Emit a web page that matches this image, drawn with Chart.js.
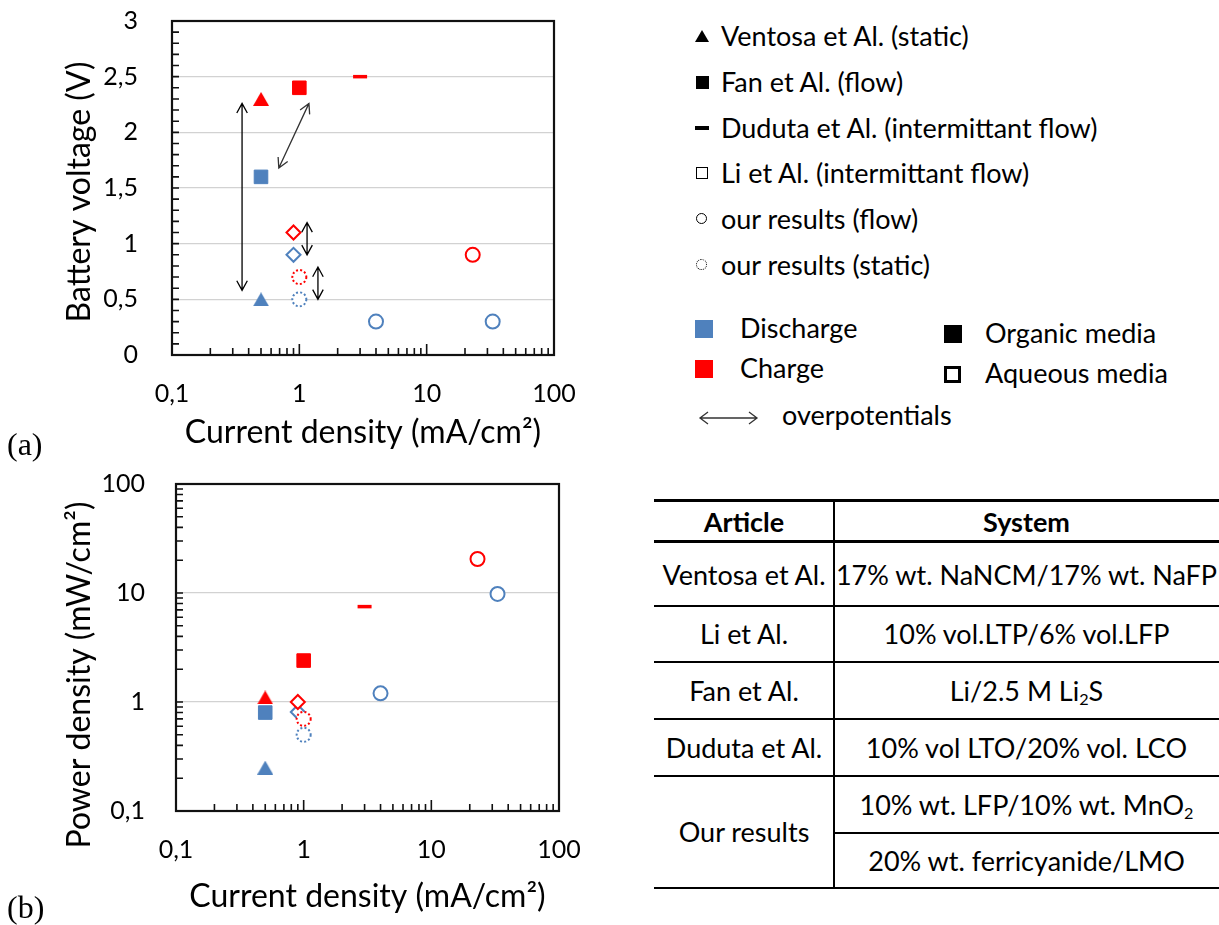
<!DOCTYPE html>
<html><head><meta charset="utf-8">
<script src="https://cdn.jsdelivr.net/npm/chart.js@4.4.0/dist/chart.umd.min.js"></script>
<style>
html,body{margin:0;padding:0;background:#fff;}
body{width:1219px;height:925px;position:relative;overflow:hidden;font-family:Lato,'Open Sans',sans-serif;color:#000;}
canvas{position:absolute;left:0;}
#ca{top:0;}
#cb{top:465px;}
.abs{position:absolute;white-space:nowrap;}
.panel{font-family:'Liberation Serif','DejaVu Serif',serif;font-size:32px;line-height:36px;}
.leg{font-size:27px;line-height:30px;}
.cell{font-size:27px;line-height:30px;text-align:center;}
.line{position:absolute;background:#000;}
sub{font-size:60%;vertical-align:-0.25em;line-height:0;}
</style></head>
<body>
<canvas id="ca" width="620" height="460"></canvas>
<canvas id="cb" width="620" height="460"></canvas>
<div class="abs panel" style="left:7px;top:426px;">(a)</div>
<div class="abs panel" style="left:7px;top:889px;">(b)</div>
<div id="legend"></div>
<div id="table"></div>
<script>
// ---------- DATA ----------
const xTickValues = [0.1, 1, 10, 100];
const xTickLabels = ['0,1', '1', '10', '100'];
const vTickValues = [0, 0.5, 1, 1.5, 2, 2.5, 3];
const vTickLabels = ['0', '0,5', '1', '1,5', '2', '2,5', '3'];
const pTickValues = [0.1, 1, 10, 100];
const pTickLabels = ['0,1', '1', '10', '100'];

// current density (mA/cm2), battery voltage (V), power density (mW/cm2)
const ventosaDisX = [0.5], ventosaDisV = [0.5], ventosaDisP = [0.25];
const ventosaChgX = [0.5], ventosaChgV = [2.3], ventosaChgP = [1.1];
const fanDisX = [0.5], fanDisV = [1.6], fanDisP = [0.8];
const fanChgX = [1.0], fanChgV = [2.4], fanChgP = [2.4];
const dudutaChgX = [3.0], dudutaChgV = [2.5], dudutaChgP = [7.5];
const liDisX = [0.9], liDisV = [0.9], liDisP = [0.81];
const liChgX = [0.9], liChgV = [1.1], liChgP = [1.0];
const flowDisX = [4.0, 33], flowDisV = [0.3, 0.3], flowDisP = [1.2, 9.8];
const flowChgX = [23], flowChgV = [0.9], flowChgP = [20.5];
const staticDisX = [1.0], staticDisV = [0.5], staticDisP = [0.5];
const staticChgX = [1.0], staticChgV = [0.7], staticChgP = [0.7];

// overpotential arrows in panel (a): (x1,V1) <-> (x2,V2)
const arrowX1 = [0.355, 0.69, 1.15, 1.40];
const arrowV1 = [2.26, 1.68, 1.19, 0.79];
const arrowX2 = [0.355, 1.19, 1.15, 1.40];
const arrowV2 = [0.58, 2.26, 0.90, 0.50];

const legendLabels = ['Ventosa et Al. (static)', 'Fan et Al. (flow)', 'Duduta et Al. (intermittant flow)',
  'Li et Al. (intermittant flow)', 'our results (flow)', 'our results (static)'];
const legendMarkers = ['tri', 'sq', 'dash', 'hsq', 'circ', 'dcirc'];
const colorLabels = ['Discharge', 'Charge'];
const mediaLabels = ['Organic media', 'Aqueous media'];
const arrowLabel = 'overpotentials';

const tableHeaders = ['Article', 'System'];
const tableArticles = ['Ventosa et Al.', 'Li et Al.', 'Fan et Al.', 'Duduta et Al.', 'Our results'];
const tableSystems = ['17% wt. NaNCM/17% wt. NaFP', '10% vol.LTP/6% vol.LFP', 'Li/2.5 M Li<sub>2</sub>S',
  '10% vol LTO/20% vol. LCO', '10% wt. LFP/10% wt. MnO<sub>2</sub>', '20% wt. ferricyanide/LMO'];

// ---------- STYLES ----------
const BLUE = '#4F81BD', RED = '#FF0000';
function triCanvas(color) {
  const w = 16, hh = 14;
  const c = document.createElement('canvas'); c.width = w; c.height = hh;
  const g = c.getContext('2d');
  g.fillStyle = color; g.beginPath(); g.moveTo(w / 2, 0); g.lineTo(w, hh); g.lineTo(0, hh); g.closePath(); g.fill();
  return c;
}
const markerStyle = {
  ventosa: {pointStyle: 'tri', radius: 9, filled: true, bw: 1},
  fan: {pointStyle: 'rect', radius: 9.6, filled: true, bw: 1},
  duduta: {pointStyle: 'line', radius: 7, filled: true, bw: 3.5},
  li: {pointStyle: 'rectRot', radius: 7, filled: false, bw: 2},
  flow: {pointStyle: 'circle', radius: 7, filled: false, bw: 2},
  stat: {pointStyle: 'circle', radius: 7, filled: false, bw: 2, dotted: true}
};
// drawing order: first is on top
const seriesList = [
  ['stat', RED, staticChgX, staticChgV, staticChgP],
  ['li', RED, liChgX, liChgV, liChgP],
  ['flow', RED, flowChgX, flowChgV, flowChgP],
  ['duduta', RED, dudutaChgX, dudutaChgV, dudutaChgP],
  ['fan', RED, fanChgX, fanChgV, fanChgP],
  ['ventosa', RED, ventosaChgX, ventosaChgV, ventosaChgP],
  ['stat', BLUE, staticDisX, staticDisV, staticDisP],
  ['li', BLUE, liDisX, liDisV, liDisP],
  ['flow', BLUE, flowDisX, flowDisV, flowDisP],
  ['fan', BLUE, fanDisX, fanDisV, fanDisP],
  ['ventosa', BLUE, ventosaDisX, ventosaDisV, ventosaDisP]
];
function buildDatasets(which) {
  return seriesList.map(([key, col, xs, vs, ps]) => {
    const st = markerStyle[key];
    const ys = which === 'V' ? vs : ps;
    return {
      data: xs.map((x, i) => ({x: x, y: ys[i]})),
      pointStyle: st.pointStyle === 'tri' ? triCanvas(col) : st.pointStyle,
      pointRadius: st.radius, pointHoverRadius: st.radius,
      borderColor: col, backgroundColor: st.filled ? col : '#ffffff',
      pointBorderWidth: st.bw, borderWidth: st.bw, dotted: !!st.dotted, showLine: false
    };
  });
}

function logMinors(lo, hi) {
  const out = [];
  for (let d = lo; d < hi * 0.999; d *= 10) for (let k = 2; k <= 9; k++) out.push(k * d);
  return out;
}
function linMinors(lo, hi, step) {
  const out = [];
  const n = Math.round((hi - lo) / step);
  for (let i = 1; i < n; i++) out.push(lo + i * step);
  return out;
}

// ---------- PLUGINS ----------
const dottedPlugin = {
  id: 'dotted',
  beforeDatasetDraw(chart, args) {
    if (chart.data.datasets[args.index].dotted) { chart.ctx.save(); chart.ctx.setLineDash([2, 2.2]); }
  },
  afterDatasetDraw(chart, args) {
    if (chart.data.datasets[args.index].dotted) chart.ctx.restore();
  }
};
const framePlugin = {
  id: 'frame',
  afterDatasetsDraw(chart, args, o) {
    const {ctx, chartArea: a, scales: {x, y}} = chart;
    ctx.save();
    ctx.strokeStyle = '#111'; ctx.lineWidth = 1.6;
    ctx.beginPath();
    o.xMinor.forEach(v => { const px = x.getPixelForValue(v); ctx.moveTo(px, a.bottom); ctx.lineTo(px, a.bottom - 7); });
    o.xMajor.forEach(v => { const px = x.getPixelForValue(v); ctx.moveTo(px, a.bottom); ctx.lineTo(px, a.bottom - 11); });
    o.yMinor.forEach(v => { const py = y.getPixelForValue(v); ctx.moveTo(a.left, py); ctx.lineTo(a.left + 7, py); });
    ctx.stroke();
    ctx.strokeStyle = '#111'; ctx.lineWidth = 2.2;
    ctx.strokeRect(a.left, a.top, a.right - a.left, a.bottom - a.top);
    ctx.restore();
  }
};
function arrowHead(ctx, tx, ty, fx, fy, len, half) {
  const ang = Math.atan2(ty - fy, tx - fx);
  ctx.moveTo(tx - len * Math.cos(ang - half), ty - len * Math.sin(ang - half));
  ctx.lineTo(tx, ty);
  ctx.lineTo(tx - len * Math.cos(ang + half), ty - len * Math.sin(ang + half));
}
const arrowPlugin = {
  id: 'arrows',
  afterDatasetsDraw(chart, args, o) {
    if (!o.x1) return;
    const {ctx, scales: {x, y}} = chart;
    ctx.save();
    ctx.lineWidth = 1.3; ctx.lineJoin = 'miter';
    for (let i = 0; i < o.x1.length; i++) {
      const ax = x.getPixelForValue(o.x1[i]), ay = y.getPixelForValue(o.y1[i]);
      const bx = x.getPixelForValue(o.x2[i]), by = y.getPixelForValue(o.y2[i]);
      ctx.strokeStyle = (ax === bx) ? '#000' : '#333';
      ctx.beginPath();
      ctx.moveTo(ax, ay); ctx.lineTo(bx, by);
      arrowHead(ctx, ax, ay, bx, by, 11, 0.5);
      arrowHead(ctx, bx, by, ax, ay, 11, 0.5);
      ctx.stroke();
    }
    ctx.restore();
  }
};
const yTitlePlugin = {
  id: 'ytitle',
  afterDraw(chart, args, o) {
    const ctx = chart.ctx;
    ctx.save();
    ctx.translate(o.x, o.y); ctx.rotate(-Math.PI / 2);
    ctx.font = o.font; ctx.fillStyle = '#000'; ctx.textAlign = 'center'; ctx.textBaseline = 'middle';
    ctx.fillText(o.text, 0, 0);
    ctx.restore();
  }
};

const TICKFONT = {family: 'Lato', size: 25};
const TITLEFONT = {family: 'Lato', size: 32};

function makeChart(id, which, cfg) {
  const isV = which === 'V';
  const yVals = isV ? vTickValues : pTickValues;
  const yLabs = isV ? vTickLabels : pTickLabels;
  return new Chart(document.getElementById(id), {
    type: 'scatter',
    data: {datasets: buildDatasets(which)},
    options: {
      responsive: false, animation: false, events: [],
      layout: {padding: {top: cfg.top, right: cfg.right, left: 0, bottom: 0}},
      plugins: {
        legend: {display: false}, tooltip: {enabled: false},
        frame: {xMinor: logMinors(0.1, 100), xMajor: [1, 10],
                yMinor: isV ? linMinors(0, 3, 0.1) : logMinors(0.1, 100).concat([1, 10])},
        arrows: isV ? {x1: arrowX1, y1: arrowV1, x2: arrowX2, y2: arrowV2} : {},
        ytitle: {text: cfg.ytitle, x: cfg.ytx, y: cfg.yty, font: '32px Lato'}
      },
      scales: {
        x: {
          type: 'logarithmic', min: 0.1, max: 100,
          afterFit: s => { s.height = cfg.xh; s.paddingLeft = 0; s.paddingRight = 0; },
          afterBuildTicks: s => { s.ticks = xTickValues.map(v => ({value: v, major: true})); },
          ticks: {callback: (v, i) => xTickLabels[i], font: TICKFONT, color: '#000', padding: cfg.xpad, maxRotation: 0, autoSkip: false},
          grid: {display: false, drawTicks: false}, border: {display: false},
          title: {display: true, text: 'Current density (mA/cm²)', font: TITLEFONT, color: '#000', padding: {top: 0, bottom: cfg.xtpad}}
        },
        y: {
          type: isV ? 'linear' : 'logarithmic', min: yVals[0], max: yVals[yVals.length - 1],
          afterFit: s => { s.width = cfg.yw; s.paddingTop = 0; s.paddingBottom = 0; },
          afterBuildTicks: s => { s.ticks = yVals.map(v => ({value: v, major: true})); },
          ticks: {callback: (v, i) => yLabs[i], font: TICKFONT, color: '#000', padding: cfg.ypad, autoSkip: false},
          grid: {drawTicks: false, lineWidth: 1.3,
                 color: c => (c.index === 0 || c.index === yVals.length - 1) ? 'rgba(0,0,0,0)' : '#d2d2d2'},
          border: {display: false}
        }
      }
    },
    plugins: [dottedPlugin, framePlugin, arrowPlugin, yTitlePlugin]
  });
}

makeChart('ca', 'V', {top: 21, right: 66, xh: 105, yw: 172, xpad: 24, xtpad: 8, ypad: 34,
  ytitle: 'Battery voltage (V)', ytx: 80, yty: 192});
makeChart('cb', 'P', {top: 19, right: 61, xh: 114, yw: 176, xpad: 24, xtpad: 9, ypad: 31,
  ytitle: 'Power density (mW/cm²)', ytx: 80, yty: 210});

// ---------- LEGEND (HTML) ----------
const leg = document.getElementById('legend');
const rowY = [36, 82, 128, 173, 219, 265];
function markerHTML(kind, cx, cy) {
  let s = '';
  if (kind === 'tri') s = `left:${cx-7}px;top:${cy-6}px;width:0;height:0;border-left:7px solid transparent;border-right:7px solid transparent;border-bottom:12px solid #000;`;
  if (kind === 'sq') s = `left:${cx-6.5}px;top:${cy-6.5}px;width:13px;height:13px;background:#000;`;
  if (kind === 'dash') s = `left:${cx-7}px;top:${cy-2}px;width:14px;height:4px;background:#000;`;
  if (kind === 'hsq') s = `left:${cx-6.5}px;top:${cy-6.5}px;width:10px;height:10px;border:1.5px solid #000;`;
  if (kind === 'circ') s = `left:${cx-6}px;top:${cy-6}px;width:9px;height:9px;border:1.6px solid #000;border-radius:50%;`;
  if (kind === 'dcirc') s = `left:${cx-6}px;top:${cy-6}px;width:9px;height:9px;border:1.6px dotted #000;border-radius:50%;`;
  return `<div class="abs" style="${s}"></div>`;
}
let h = '';
legendLabels.forEach((t, i) => {
  h += markerHTML(legendMarkers[i], 702, rowY[i]);
  h += `<div class="abs leg" style="left:721px;top:${rowY[i]-15}px;">${t}</div>`;
});
const colY = [329, 369];
[BLUE, RED].forEach((c, i) => {
  h += `<div class="abs" style="left:695px;top:${colY[i]-9}px;width:18px;height:18px;background:${c};"></div>`;
  h += `<div class="abs leg" style="left:740px;top:${colY[i]-16}px;">${colorLabels[i]}</div>`;
});
const medY = [334, 374];
h += `<div class="abs" style="left:944px;top:${medY[0]-9}px;width:18px;height:18px;background:#000;"></div>`;
h += `<div class="abs" style="left:944px;top:${medY[1]-8}px;width:11px;height:11px;border:3px solid #000;"></div>`;
mediaLabels.forEach((t, i) => {
  h += `<div class="abs leg" style="left:985px;top:${medY[i]-16}px;">${t}</div>`;
});
h += `<svg class="abs" style="left:698px;top:408px;" width="62" height="20"><path d="M2 10 L59 10 M10 4 L2 10 L10 16 M51 4 L59 10 L51 16" stroke="#333" stroke-width="1.3" fill="none"/></svg>`;
h += `<div class="abs leg" style="left:782px;top:${416-16}px;">${arrowLabel}</div>`;
leg.innerHTML = h;

// ---------- TABLE (HTML) ----------
const tb = document.getElementById('table');
const L = 654, M = 834, R = 1219;
let t = '';
t += `<div class="line" style="left:${L}px;top:499px;width:${R-L}px;height:3px;"></div>`;
t += `<div class="line" style="left:${L}px;top:540px;width:${R-L}px;height:3px;"></div>`;
[606, 662, 719, 776].forEach(y => { t += `<div class="line" style="left:${L}px;top:${y-1}px;width:${R-L}px;height:2px;"></div>`; });
t += `<div class="line" style="left:${M}px;top:832px;width:${R-M}px;height:2px;"></div>`;
t += `<div class="line" style="left:${L}px;top:887px;width:${R-L}px;height:2px;"></div>`;
t += `<div class="line" style="left:${M-1}px;top:500px;width:2px;height:388px;"></div>`;
t += `<div class="abs cell" style="left:${L}px;width:${M-L}px;top:${522-15}px;font-weight:bold;">${tableHeaders[0]}</div>`;
t += `<div class="abs cell" style="left:${M}px;width:${R-M}px;top:${522-15}px;font-weight:bold;">${tableHeaders[1]}</div>`;
const artY = [575, 634, 691, 748, 832];
tableArticles.forEach((a, i) => {
  t += `<div class="abs cell" style="left:${L}px;width:${M-L}px;top:${artY[i]-15}px;">${a}</div>`;
});
const sysY = [575, 634, 691, 748, 805, 861];
tableSystems.forEach((s, i) => {
  t += `<div class="abs cell" style="left:${M}px;width:${R-M}px;top:${sysY[i]-15}px;">${s}</div>`;
});
tb.innerHTML = t;
</script>
</body></html>
